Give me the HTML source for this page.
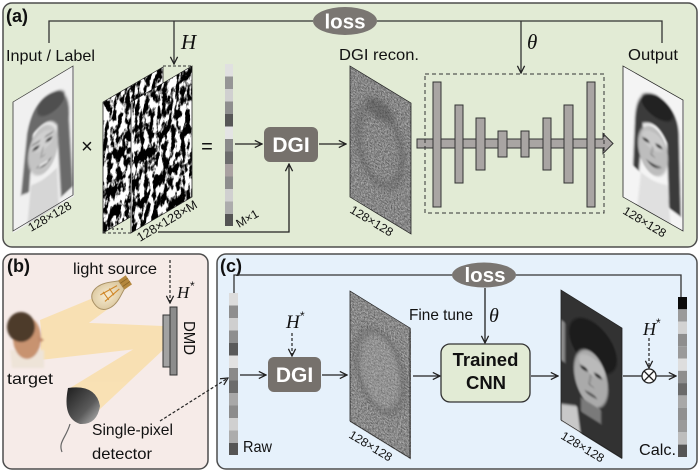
<!DOCTYPE html>
<html><head><meta charset="utf-8">
<style>
html,body{margin:0;padding:0;background:#fff;}
svg{display:block}
text{font-family:"Liberation Sans",Arial,sans-serif;}
.m{font-family:"Liberation Serif",serif;font-style:italic;}
</style></head><body>
<svg width="700" height="473" viewBox="0 0 700 473" xmlns="http://www.w3.org/2000/svg">
<defs>
 <marker id="ar" viewBox="0 0 10 10" refX="9" refY="5" markerWidth="9" markerHeight="9" markerUnits="userSpaceOnUse" orient="auto">
  <path d="M1,1 L9,5 L1,9" fill="none" stroke="#222" stroke-width="1.4"/>
 </marker>
 <filter id="soft" x="-10%" y="-10%" width="120%" height="120%"><feGaussianBlur stdDeviation="1.1"/></filter>
 <filter id="soft2" x="-20%" y="-20%" width="140%" height="140%"><feGaussianBlur stdDeviation="3"/></filter>
 <filter id="grain" x="0" y="0" width="1" height="1" color-interpolation-filters="sRGB">
  <feTurbulence type="fractalNoise" baseFrequency="0.7" numOctaves="3" seed="5"/>
  <feColorMatrix type="matrix" values="0.65 0 0 0 0.2  0.65 0 0 0 0.2  0.65 0 0 0 0.2  0 0 0 0 1"/>
 </filter>
 <filter id="grain2" x="0" y="0" width="1" height="1" color-interpolation-filters="sRGB">
  <feTurbulence type="fractalNoise" baseFrequency="0.7" numOctaves="3" seed="11"/>
  <feColorMatrix type="matrix" values="0.65 0 0 0 0.21  0.65 0 0 0 0.21  0.65 0 0 0 0.21  0 0 0 0 1"/>
 </filter>
 <filter id="bw1" x="0" y="0" width="1" height="1" color-interpolation-filters="sRGB">
  <feTurbulence type="fractalNoise" baseFrequency="0.22 0.09" numOctaves="5" seed="3"/>
  <feColorMatrix type="matrix" values="1 0 0 0 0  1 0 0 0 0  1 0 0 0 0  0 0 0 0 1"/>
  <feComponentTransfer>
   <feFuncR type="linear" slope="7" intercept="-3.1"/>
   <feFuncG type="linear" slope="7" intercept="-3.1"/>
   <feFuncB type="linear" slope="7" intercept="-3.1"/>
  </feComponentTransfer>
 </filter>
 <filter id="bw2" x="0" y="0" width="1" height="1" color-interpolation-filters="sRGB">
  <feTurbulence type="fractalNoise" baseFrequency="0.22 0.09" numOctaves="5" seed="17"/>
  <feColorMatrix type="matrix" values="1 0 0 0 0  1 0 0 0 0  1 0 0 0 0  0 0 0 0 1"/>
  <feComponentTransfer>
   <feFuncR type="linear" slope="7" intercept="-3.1"/>
   <feFuncG type="linear" slope="7" intercept="-3.1"/>
   <feFuncB type="linear" slope="7" intercept="-3.1"/>
  </feComponentTransfer>
 </filter>
 <clipPath id="r60"><rect x="0" y="0" width="61" height="131"/></clipPath>
 <linearGradient id="det" x1="0" y1="0" x2="1" y2="1">
  <stop offset="0" stop-color="#1e1e1e"/><stop offset="0.6" stop-color="#5a5a5a"/><stop offset="1" stop-color="#bdbdbd"/>
 </linearGradient>
 <radialGradient id="bulbg" cx="0.45" cy="0.5" r="0.6">
  <stop offset="0" stop-color="#f7ecd2"/><stop offset="1" stop-color="#d9c49a"/>
 </radialGradient>
</defs>

<!-- Panels -->
<rect x="3" y="3" width="694" height="244" rx="9" fill="#e2ebd5" stroke="#4d4d4d" stroke-width="1.5"/>
<rect x="3" y="254" width="205" height="215" rx="9" fill="#f6ebe8" stroke="#4d4d4d" stroke-width="1.5"/>
<rect x="217" y="254" width="480" height="215" rx="9" fill="#e6f1fb" stroke="#4d4d4d" stroke-width="1.5"/>

<!-- ================= Panel (a) ================= -->
<text x="6" y="22" font-size="18" font-weight="bold" fill="#111">(a)</text>

<polyline points="49,43 49,21 313,21" fill="none" stroke="#333" stroke-width="1.3"/>
<polyline points="377,21 662,21 662,43" fill="none" stroke="#333" stroke-width="1.3"/>
<line x1="174" y1="21" x2="174" y2="64" stroke="#333" stroke-width="1.3" marker-end="url(#ar)"/>
<line x1="521" y1="21" x2="521" y2="73" stroke="#333" stroke-width="1.3" marker-end="url(#ar)"/>
<ellipse cx="345" cy="21" rx="32" ry="14" fill="#7a7672"/>
<text x="345" y="28.5" font-size="20.5" font-weight="bold" fill="#fff" text-anchor="middle">loss</text>
<text x="181" y="49" font-size="21" class="m" fill="#111">H</text>
<text x="527" y="49" font-size="21" class="m" fill="#111">θ</text>

<text x="6" y="61" font-size="16" fill="#111" textLength="89" lengthAdjust="spacingAndGlyphs">Input / Label</text>
<text x="339" y="60" font-size="16" fill="#111" textLength="80" lengthAdjust="spacingAndGlyphs">DGI recon.</text>
<text x="628" y="60" font-size="16" fill="#111" textLength="50" lengthAdjust="spacingAndGlyphs">Output</text>

<!-- Input face -->
<g transform="matrix(1,-0.6,0,1,13,102)">
 <g clip-path="url(#r60)">
  <g filter="url(#soft)">
   <rect x="-5" y="-5" width="72" height="142" fill="#f0f0f0"/>
   <path d="M14,40 Q20,10 40,14 Q58,20 56,50 L60,120 L48,124 L44,50 Q36,34 20,44 L16,100 L8,98 Z" fill="#6a6a6a"/>
   <ellipse cx="38" cy="24" rx="14" ry="10" fill="#505050"/>
   <ellipse cx="30" cy="66" rx="15" ry="24" fill="#c4c4c4"/>
   <ellipse cx="30" cy="57" rx="11" ry="9" fill="#d0d0d0"/>
   <ellipse cx="23" cy="60" rx="3.5" ry="1.7" fill="#3a3a3a"/>
   <ellipse cx="36" cy="59" rx="3.5" ry="1.7" fill="#3a3a3a"/>
   <path d="M19,55 L27,55 M32,54 L40,54" stroke="#555" stroke-width="1.2"/>
   <path d="M30,63 L28,72 L32,72" stroke="#888" fill="none"/>
   <path d="M23,79 Q31,87 39,78 Q31,81 23,79Z" fill="#444"/>
   <rect x="26" y="79" width="9" height="2" fill="#eee"/>
   <path d="M18,94 Q30,98 44,92 L46,135 L14,135 Z" fill="#d6d6d6"/>
  </g>
 </g>
 <polygon points="0,0 60,0 60,129 0,129" fill="none" stroke="#333" stroke-width="0.8"/>
</g>
<text transform="translate(31,232) rotate(-30)" font-size="12" fill="#111" textLength="48" lengthAdjust="spacingAndGlyphs">128×128</text>

<text x="87" y="153" font-size="20" fill="#111" text-anchor="middle">×</text>

<!-- Patterns -->
<g transform="matrix(1,-0.583,0,1,103,102)">
 <rect width="60" height="131" filter="url(#bw1)"/>
 <polygon points="0,0 60,0 60,131 0,131" fill="none" stroke="#222" stroke-width="0.8"/>
</g>
<g transform="matrix(1,-0.59,0,1,131,102)">
 <rect width="61" height="131" fill="#fff"/>
 <rect x="1" width="60" height="131" filter="url(#bw2)"/>
 <polygon points="0,0 61,0 61,131 0,131" fill="none" stroke="#222" stroke-width="0.8"/>
</g>
<line x1="163" y1="66" x2="192" y2="66" stroke="#333" stroke-width="1" stroke-dasharray="3,2"/>
<line x1="103" y1="233" x2="131" y2="233" stroke="#333" stroke-width="1" stroke-dasharray="3,2"/>
<circle cx="113" cy="229" r="0.9" fill="#222"/><circle cx="117.5" cy="229" r="0.9" fill="#222"/><circle cx="122" cy="229" r="0.9" fill="#222"/>
<text transform="translate(140,242) rotate(-31)" font-size="12.5" fill="#111" textLength="68" lengthAdjust="spacingAndGlyphs">128×128×M</text>

<text x="207" y="153" font-size="20" fill="#111" text-anchor="middle">=</text>

<!-- M x 1 bar -->
<g>
 <rect x="225" y="64" width="8" height="12.5" fill="#e0e0e0"/>
 <rect x="225" y="76.5" width="8" height="12.5" fill="#959595"/>
 <rect x="225" y="89" width="8" height="12.5" fill="#d0d0d0"/>
 <rect x="225" y="101.5" width="8" height="12.5" fill="#8e8e8e"/>
 <rect x="225" y="114" width="8" height="12.5" fill="#565656"/>
 <rect x="225" y="126.5" width="8" height="12.5" fill="#e4e4e4"/>
 <rect x="225" y="139" width="8" height="12.5" fill="#8a8a8a"/>
 <rect x="225" y="151.5" width="8" height="12.5" fill="#6c6c6c"/>
 <rect x="225" y="164" width="8" height="12.5" fill="#a9a1a1"/>
 <rect x="225" y="176.5" width="8" height="12.5" fill="#8d8d8d"/>
 <rect x="225" y="189" width="8" height="12.5" fill="#d0d0d0"/>
 <rect x="225" y="201.5" width="8" height="12.5" fill="#acacac"/>
 <rect x="225" y="214" width="8" height="12" fill="#545454"/>
</g>
<text transform="translate(239,228) rotate(-30)" font-size="12" fill="#111">M×1</text>

<line x1="235" y1="144" x2="262" y2="144" stroke="#222" stroke-width="1.3" marker-end="url(#ar)"/>
<rect x="264" y="127" width="54" height="35" rx="6" fill="#76716c"/>
<text x="291" y="152" font-size="21" font-weight="bold" fill="#fff" text-anchor="middle">DGI</text>
<line x1="319" y1="144" x2="346" y2="144" stroke="#222" stroke-width="1.3" marker-end="url(#ar)"/>
<polyline points="158,232 289,232 289,164" fill="none" stroke="#222" stroke-width="1.3" marker-end="url(#ar)"/>

<!-- DGI recon (a) -->
<g transform="matrix(1,0.607,0,1,350,66)">
 <g clip-path="url(#r60)">
  <rect width="61" height="131" filter="url(#grain)"/>
  <g filter="url(#soft2)" opacity="0.45">
   <ellipse cx="30" cy="62" rx="22" ry="38" fill="none" stroke="#555" stroke-width="6"/>
   <ellipse cx="30" cy="26" rx="14" ry="10" fill="#444"/>
  </g>
 </g>
 <polygon points="0,0 61,0 61,131 0,131" fill="none" stroke="#222" stroke-width="0.8"/>
</g>
<text transform="translate(349,212) rotate(31)" font-size="12" fill="#111" textLength="48" lengthAdjust="spacingAndGlyphs">128×128</text>

<!-- CNN -->
<polygon points="417,139 603,139 603,133.5 613,143.5 603,153.5 603,148 417,148" fill="#a9a5a3" stroke="#333" stroke-width="1"/>
<g fill="#a9a5a3" stroke="#333" stroke-width="1">
 <rect x="433" y="82" width="8" height="125"/>
 <rect x="455" y="105" width="8" height="78"/>
 <rect x="476" y="118" width="9" height="52"/>
 <rect x="498" y="131" width="9" height="26"/>
 <rect x="521" y="131" width="8" height="26"/>
 <rect x="543" y="118" width="8" height="52"/>
 <rect x="564" y="105" width="9" height="78"/>
 <rect x="587" y="82" width="8" height="125"/>
</g>
<rect x="425" y="74" width="179" height="139" fill="none" stroke="#333" stroke-width="1" stroke-dasharray="4,3"/>

<!-- Output face (a) -->
<g transform="matrix(1,0.567,0,1,623,66)">
 <g clip-path="url(#r60)">
  <g filter="url(#soft)">
   <rect x="-5" y="-5" width="72" height="142" fill="#f4f4f4"/>
   <path d="M12,44 Q14,12 34,10 Q56,12 56,40 L58,118 L46,116 L44,52 Q34,34 20,46 L16,96 L10,94 Z" fill="#3a3a3a"/>
   <ellipse cx="34" cy="22" rx="16" ry="11" fill="#222"/>
   <ellipse cx="30" cy="68" rx="15" ry="24" fill="#bdbdbd"/>
   <ellipse cx="30" cy="58" rx="11" ry="9" fill="#cacaca"/>
   <ellipse cx="23" cy="61" rx="3.5" ry="1.7" fill="#333"/>
   <ellipse cx="36" cy="60" rx="3.5" ry="1.7" fill="#333"/>
   <path d="M30,64 L28,73 L32,73" stroke="#777" fill="none"/>
   <path d="M23,80 Q31,88 39,79 Q31,82 23,80Z" fill="#3c3c3c"/>
   <path d="M18,96 Q30,100 44,94 L48,135 L14,135 Z" fill="#e0e0e0"/>
  </g>
 </g>
 <polygon points="0,0 60,0 60,131 0,131" fill="none" stroke="#222" stroke-width="0.8"/>
</g>
<text transform="translate(622,213) rotate(31)" font-size="12" fill="#111" textLength="48" lengthAdjust="spacingAndGlyphs">128×128</text>

<!-- ================= Panel (b) ================= -->
<text x="7" y="272" font-size="18" font-weight="bold" fill="#111">(b)</text>
<text x="73" y="274" font-size="16" fill="#111" textLength="84" lengthAdjust="spacingAndGlyphs">light source</text>

<g fill="#fbd889" opacity="0.55">
 <polygon points="98,296 112,306 44,356 40,320"/>
 <polygon points="42,321 163,326 163,346 40,360"/>
 <polygon points="160,333 163,350 99,410 70,388"/>
</g>

<!-- bulb -->
<g transform="translate(110,293) rotate(-35)">
 <path d="M-19,0 C-19,-13 -6,-15 6,-9 L14,-5 L14,5 L6,9 C-6,15 -19,13 -19,0Z" fill="url(#bulbg)" stroke="#a89064" stroke-width="1"/>
 <rect x="14" y="-5.5" width="9" height="11" fill="#b4873e"/>
 <path d="M14,-2 L23,-2 M14,2 L23,2" stroke="#8a6426" stroke-width="0.8"/>
 <path d="M-9,-4 L10,-2 M-9,4 L10,2 M-5,-5 L-5,5 M2,-4 L2,4" stroke="#d0882a" stroke-width="1.1"/>
</g>

<!-- target face -->
<g filter="url(#soft)">
 <path d="M10,350 L44,350 L44,368 L12,368Z" fill="#eee4d8"/>
 <ellipse cx="27" cy="338" rx="14" ry="21" fill="#c8936f"/>
 <ellipse cx="21" cy="327" rx="14" ry="15" fill="#4e3a2a"/>
 <path d="M38,336 L44,340 L39,343Z" fill="#c0896a"/>
</g>
<text x="7" y="384" font-size="16" fill="#111" textLength="46" lengthAdjust="spacingAndGlyphs">target</text>

<!-- DMD -->
<line x1="170" y1="260" x2="170" y2="303" stroke="#222" stroke-width="1.2" stroke-dasharray="3,2" marker-end="url(#ar)"/>
<text x="177" y="298" font-size="17" class="m" fill="#111">H</text>
<text x="190" y="290" font-size="12" fill="#111">*</text>
<rect x="163" y="315" width="7" height="52" fill="#a2a2a2" stroke="#333" stroke-width="1"/>
<rect x="170" y="307" width="7" height="68" fill="#8c8c8c" stroke="#333" stroke-width="1"/>
<text transform="translate(184,321) rotate(90)" font-size="16" fill="#111" textLength="34" lengthAdjust="spacingAndGlyphs">DMD</text>

<!-- detector -->
<path d="M70,424 C66,438 58,442 62,452" fill="none" stroke="#666" stroke-width="1.2"/>
<path d="M68,388 Q96,384 100,406 Q97,425 80,424 Q62,418 68,388 Z" fill="url(#det)"/>
<text x="92" y="435" font-size="16" fill="#111" textLength="81" lengthAdjust="spacingAndGlyphs">Single-pixel</text>
<text x="92" y="459" font-size="16" fill="#111" textLength="60" lengthAdjust="spacingAndGlyphs">detector</text>

<line x1="160" y1="421" x2="228" y2="378" stroke="#222" stroke-width="1.2" stroke-dasharray="3,2" marker-end="url(#ar)"/>

<!-- ================= Panel (c) ================= -->
<text x="220" y="272" font-size="18" font-weight="bold" fill="#111">(c)</text>
<polyline points="234,293 234,275 452,275" fill="none" stroke="#333" stroke-width="1.3"/>
<polyline points="516,275 681,275 681,297" fill="none" stroke="#333" stroke-width="1.3"/>
<ellipse cx="484" cy="275" rx="32" ry="12.5" fill="#7a7672"/>
<text x="485" y="282" font-size="20.5" font-weight="bold" fill="#fff" text-anchor="middle">loss</text>
<line x1="485" y1="288" x2="485" y2="343" stroke="#222" stroke-width="1.3" marker-end="url(#ar)"/>
<text x="409" y="320" font-size="16" fill="#111" textLength="64" lengthAdjust="spacingAndGlyphs">Fine tune</text>
<text x="489" y="322" font-size="20" class="m" fill="#111">θ</text>

<!-- Raw bar -->
<g>
 <rect x="229" y="293" width="9" height="12.5" fill="#dcdcdc"/>
 <rect x="229" y="305.5" width="9" height="12.5" fill="#8e8e8e"/>
 <rect x="229" y="318" width="9" height="12.5" fill="#cfcfcf"/>
 <rect x="229" y="330.5" width="9" height="12.5" fill="#8e8e8e"/>
 <rect x="229" y="343" width="9" height="12.5" fill="#5a5a5a"/>
 <rect x="229" y="355.5" width="9" height="12.5" fill="#e2e2e2"/>
 <rect x="229" y="368" width="9" height="12.5" fill="#8a8a8a"/>
 <rect x="229" y="380.5" width="9" height="12.5" fill="#6c6c6c"/>
 <rect x="229" y="393" width="9" height="12.5" fill="#a8a8a8"/>
 <rect x="229" y="405.5" width="9" height="12.5" fill="#8c8c8c"/>
 <rect x="229" y="418" width="9" height="12.5" fill="#d0d0d0"/>
 <rect x="229" y="430.5" width="9" height="12.5" fill="#acacac"/>
 <rect x="229" y="443" width="9" height="12" fill="#555"/>
</g>
<text x="243" y="452" font-size="16" fill="#111" textLength="29" lengthAdjust="spacingAndGlyphs">Raw</text>

<line x1="240" y1="375" x2="266" y2="375" stroke="#222" stroke-width="1.3" marker-end="url(#ar)"/>
<line x1="292" y1="333" x2="292" y2="356" stroke="#222" stroke-width="1.2" stroke-dasharray="3,2" marker-end="url(#ar)"/>
<text x="286" y="328" font-size="19" class="m" fill="#111">H</text>
<text x="300" y="320" font-size="12" fill="#111">*</text>
<rect x="268" y="357" width="53" height="35" rx="6" fill="#76716c"/>
<text x="294.5" y="382" font-size="21" font-weight="bold" fill="#fff" text-anchor="middle">DGI</text>
<line x1="322" y1="375" x2="347" y2="375" stroke="#222" stroke-width="1.3" marker-end="url(#ar)"/>

<!-- recon (c) -->
<g transform="matrix(1,0.617,0,1,350,291)">
 <g clip-path="url(#r60)">
  <rect width="61" height="131" filter="url(#grain2)"/>
  <g filter="url(#soft2)" opacity="0.5">
   <ellipse cx="30" cy="62" rx="21" ry="36" fill="#b0b0b0" opacity="0.5"/>
   <ellipse cx="30" cy="62" rx="23" ry="38" fill="none" stroke="#555" stroke-width="5"/>
  </g>
 </g>
 <polygon points="0,0 60,0 60,130 0,130" fill="none" stroke="#222" stroke-width="0.8"/>
</g>
<text transform="translate(348,437) rotate(31)" font-size="12" fill="#111" textLength="48" lengthAdjust="spacingAndGlyphs">128×128</text>

<line x1="413" y1="376" x2="440" y2="376" stroke="#222" stroke-width="1.3" marker-end="url(#ar)"/>
<rect x="441" y="344" width="89" height="58" rx="9" fill="#e2ebd5" stroke="#333" stroke-width="1.3"/>
<text x="485.5" y="366" font-size="18.5" font-weight="bold" fill="#111" text-anchor="middle">Trained</text>
<text x="486" y="389" font-size="18.5" font-weight="bold" fill="#111" text-anchor="middle">CNN</text>
<line x1="531" y1="376" x2="558" y2="376" stroke="#222" stroke-width="1.3" marker-end="url(#ar)"/>

<!-- output face (c) -->
<g transform="matrix(1,0.623,0,1,561,290)">
 <g clip-path="url(#r60)">
  <g filter="url(#soft)">
   <rect x="-5" y="-5" width="72" height="142" fill="#333"/>
   <rect x="-5" y="30" width="9" height="40" fill="#8a8a8a"/>
   <ellipse cx="32" cy="36" rx="24" ry="24" fill="#1a1a1a"/>
   <ellipse cx="30" cy="70" rx="17" ry="27" fill="#aaaaaa"/>
   <ellipse cx="31" cy="57" rx="13" ry="9" fill="#bababa"/>
   <ellipse cx="23" cy="64" rx="4" ry="2" fill="#2a2a2a"/>
   <ellipse cx="37" cy="63" rx="4" ry="2" fill="#2a2a2a"/>
   <path d="M30,66 L28,77 L33,77" stroke="#666" fill="none"/>
   <ellipse cx="30" cy="86" rx="6" ry="1.6" fill="#555"/>
   <rect x="20" y="95" width="20" height="14" fill="#7a7a7a"/>
   <path d="M0,114 L16,106 L20,135 L0,135Z" fill="#c8c8c8"/>
  </g>
 </g>
 <polygon points="0,0 61,0 61,130 0,130" fill="none" stroke="#222" stroke-width="0.8"/>
</g>
<text transform="translate(560,438) rotate(31)" font-size="12" fill="#111" textLength="48" lengthAdjust="spacingAndGlyphs">128×128</text>

<!-- multiply -->
<line x1="623" y1="376" x2="642" y2="376" stroke="#222" stroke-width="1.3"/>
<circle cx="649" cy="376" r="7" fill="#fff" stroke="#222" stroke-width="1.3"/>
<path d="M644,371 L654,381 M654,371 L644,381" stroke="#222" stroke-width="1.3"/>
<line x1="656" y1="376" x2="676" y2="376" stroke="#222" stroke-width="1.3" marker-end="url(#ar)"/>
<line x1="649" y1="338" x2="649" y2="368" stroke="#222" stroke-width="1.2" stroke-dasharray="3,2" marker-end="url(#ar)"/>
<text x="643" y="335" font-size="18" class="m" fill="#111">H</text>
<text x="656" y="327" font-size="12" fill="#111">*</text>

<!-- Calc bar -->
<g>
 <rect x="678" y="297" width="9" height="12.3" fill="#0a0a0a"/>
 <rect x="678" y="309.3" width="9" height="12.3" fill="#9a9a9a"/>
 <rect x="678" y="321.6" width="9" height="12.3" fill="#d2d2d2"/>
 <rect x="678" y="333.9" width="9" height="12.3" fill="#8e8e8e"/>
 <rect x="678" y="346.2" width="9" height="12.3" fill="#9a9a9a"/>
 <rect x="678" y="358.5" width="9" height="12.3" fill="#dedede"/>
 <rect x="678" y="370.8" width="9" height="12.3" fill="#8e8e8e"/>
 <rect x="678" y="383.1" width="9" height="12.3" fill="#6a6a6a"/>
 <rect x="678" y="395.4" width="9" height="12.3" fill="#a8a8a8"/>
 <rect x="678" y="407.7" width="9" height="12.3" fill="#909090"/>
 <rect x="678" y="420" width="9" height="12.3" fill="#9a9a9a"/>
 <rect x="678" y="432.3" width="9" height="12.3" fill="#bdbdbd"/>
 <rect x="678" y="444.6" width="9" height="12.4" fill="#555"/>
</g>
<text x="639" y="455" font-size="16" fill="#111" textLength="37" lengthAdjust="spacingAndGlyphs">Calc.</text>
</svg>
</body></html>
